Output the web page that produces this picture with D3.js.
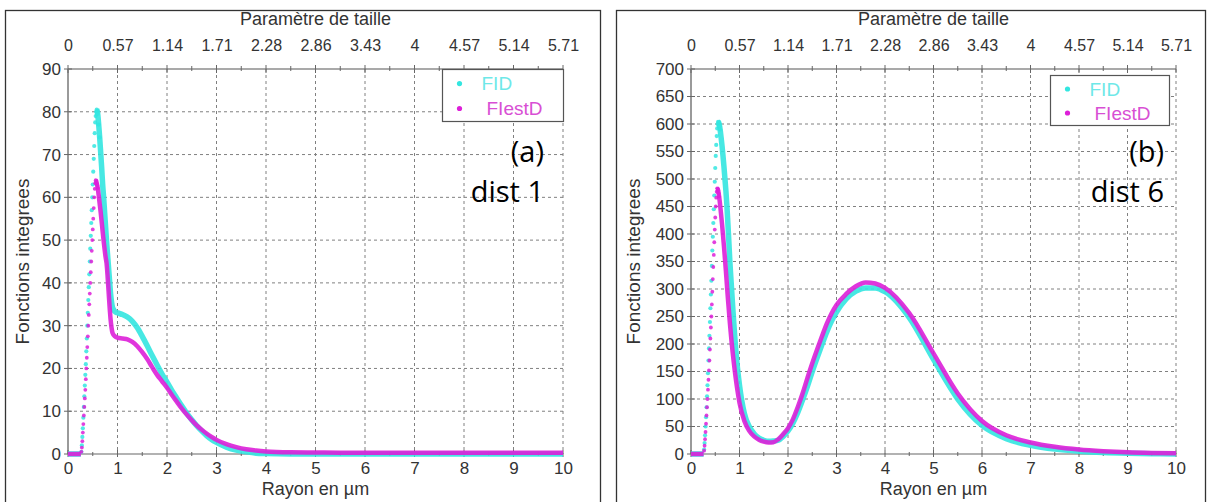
<!DOCTYPE html>
<html><head><meta charset="utf-8">
<script src="https://cdn.jsdelivr.net/npm/d3@7"></script>
<style>body{margin:0;background:#fff}svg{display:block}</style>
</head><body>
<svg id="c" width="1211" height="502"></svg>
<script>
// ---------- data ----------
const radius = [0,0.1,0.2,0.25,
 0.26,0.27,0.28,0.29,0.30,0.31,0.32,0.33,0.34,0.35,0.36,0.37,0.38,0.39,0.40,0.41,0.42,0.43,0.44,0.45,0.46,0.47,0.48,0.49,0.50,0.51,0.52,0.53,0.54,0.55,0.56,0.57,0.58,0.59,0.60,
 0.62,0.64,0.66,0.68,0.70,0.72,0.74,0.76,0.78,0.80,0.82,0.84,0.86,0.88,0.90,
 0.95,1.0,1.1,1.2,1.3,1.4,1.5,1.6,1.7,1.8,1.9,2.0,2.1,2.2,2.3,2.4,2.5,2.6,2.7,2.8,2.9,3.0,
 3.2,3.4,3.6,3.8,4.0,
 4.5,5,5.5,6,6.5,7,7.5,8,8.5,9,9.5,10];

const dist1FID = [0,0,0,0,
 0,0.5,2,4,6,8.5,11,13.5,16,18.5,21,24,27,30,33,36,39,42,45,48,51,54,57,60,63,66,69,72,75,77.5,79,80,80.5,80.2,79.5,
 77,74,70.5,67,63,60,56.5,53,49.5,46.5,43.5,40.5,37.5,35.5,34.2,
 33.3,33,32.6,32,31,29.5,27.5,25.3,23,20.8,18.7,16.8,14.8,13,11.2,9.5,8,6.6,5.4,4.3,3.4,2.7,
 1.6,0.9,0.5,0.2,0.1,
 0,0,0,0,0,0,0,0,0,0,0,0];

const dist1FIestD = [0,0,0,0,
 0,0.5,1.5,3,5,7,9,11,13,15,17.5,20,22.5,25,27.5,30,32.5,35,37.5,40,42.5,45,47.5,50,52.5,55,57.5,60,62,63.3,64,63.8,63.3,62.8,62.2,
 60.5,58.5,56.5,54.3,52,49.8,47.8,46,44.5,41.5,38,34.5,31.5,29.5,28.3,
 27.5,27.2,27,26.8,26.2,25.2,23.8,22.2,20.3,18.5,17,15.5,13.8,12.2,10.6,9.2,7.9,6.7,5.7,4.8,4,3.3,
 2.3,1.6,1.1,0.8,0.6,
 0.4,0.35,0.3,0.3,0.3,0.3,0.3,0.3,0.3,0.3,0.3,0.3];

const dist6FID = [0,0,0,0,
 0,8,20,34,50,67,85,105,125,147,170,192,215,240,265,290,315,342,370,395,420,445,470,495,520,542,562,578,592,600,604,603,600,596,590,
 576,560,542,522,500,478,452,420,387,352,323,295,268,241,216,
 163,125,74,50,37,29,25,23,23.5,25,32,42,56,75,98,123,150,175,199,222,242,258,
 282,296,302,302,295,
 248,172,100,52,28,16,9,5,2.5,1.2,0.5,0.2];

const dist6FIestD = [0,0,0,0,
 0,6,15,27,40,55,70,85,100,117,135,152,170,190,210,230,250,272,295,318,340,362,385,408,430,450,466,477,483,482,479,474,468,461,453,
 436,418,398,377,355,332,308,284,262,240,220,201,184,168,153,
 120,93,60,42,32,26,22.5,21,21.5,27,36,47,63,85,110,138,165,190,214,237,256,271,
 291,305,312,310,302,
 256,183,110,60,34,21,13,8,5,3,2,1.5];

const xTicks = [0,1,2,3,4,5,6,7,8,9,10];
const xMinorTicks = [0.5,1.5,2.5,3.5,4.5,5.5,6.5,7.5,8.5,9.5];
const topTickLabels = ["0","0.57","1.14","1.71","2.28","2.86","3.43","4","4.57","5.14","5.71"];
const yTicks1 = [0,10,20,30,40,50,60,70,80,90];
const yTicks6 = [0,50,100,150,200,250,300,350,400,450,500,550,600,650,700];
const seriesNames = ["FID","FIestD"];
const panelTags = ["(a)","(b)"];
const distNames = ["dist 1","dist 6"];
const topTitle = "Paramètre de taille";
const xTitle = "Rayon en µm";
const yTitle = "Fonctions integrees";

// ---------- layout ----------
const svg = d3.select("#c");
const FONT = "'Liberation Sans', Arial, sans-serif";
const cFID = "#33e6e0", cFI = "#dd1fd8";

const panels = [
 {frame:[5.5,10.5,595,500], l:68, r:563, t:69, b:454, yMax:90, yTicks:yTicks1, fid:dist1FID, fie:dist1FIestD,
  leg:{x:442.5,y:69.5,w:121,h:52}, tagR:544, yTitleX:22, tag:panelTags[0], dist:distNames[0]},
 {frame:[616.5,10.5,589,500], l:691, r:1176, t:69, b:454, yMax:700, yTicks:yTicks6, fid:dist6FID, fie:dist6FIestD,
  leg:{x:1050.5,y:75.5,w:119,h:50}, tagR:1164, yTitleX:633, tag:panelTags[1], dist:distNames[1]}
];

panels.forEach(p => {
  const g = svg.append("g");
  g.append("rect").attr("x",p.frame[0]).attr("y",p.frame[1]).attr("width",p.frame[2]).attr("height",p.frame[3])
    .attr("fill","none").attr("stroke","#333").attr("stroke-width",1.3);

  const x = d3.scaleLinear().domain([0,10]).range([p.l,p.r]);
  const y = d3.scaleLinear().domain([0,p.yMax]).range([p.b,p.t]);

  // grid
  const grid = g.append("g").attr("stroke","#808080").attr("stroke-width",1).attr("stroke-dasharray","3,3");
  xTicks.filter(d=>d>0).forEach(d => grid.append("line").attr("x1",x(d)).attr("x2",x(d)).attr("y1",p.t).attr("y2",p.b));
  p.yTicks.filter(d=>d>0 && d<p.yMax).forEach(d => grid.append("line").attr("x1",p.l).attr("x2",p.r).attr("y1",y(d)).attr("y2",y(d)));

  // axes lines
  g.append("line").attr("x1",p.l).attr("x2",p.r).attr("y1",p.t).attr("y2",p.t).attr("stroke","#555").attr("stroke-width",1.2);
  g.append("line").attr("x1",p.l).attr("x2",p.r).attr("y1",p.b).attr("y2",p.b).attr("stroke","#999").attr("stroke-width",1.5);
  g.append("line").attr("x1",p.l).attr("x2",p.l).attr("y1",p.t).attr("y2",p.b).attr("stroke","#9a9a9a").attr("stroke-width",2);

  // tick marks
  const tk = g.append("g").attr("stroke","#666").attr("stroke-width",1);
  xTicks.forEach(d => {
    tk.append("line").attr("x1",x(d)).attr("x2",x(d)).attr("y1",p.t-4).attr("y2",p.t+4);
    tk.append("line").attr("x1",x(d)).attr("x2",x(d)).attr("y1",p.b-4).attr("y2",p.b+3);
  });
  xMinorTicks.forEach(d => {
    tk.append("line").attr("x1",x(d)).attr("x2",x(d)).attr("y1",p.t-3).attr("y2",p.t+2);
    tk.append("line").attr("x1",x(d)).attr("x2",x(d)).attr("y1",p.b-2).attr("y2",p.b+2);
  });
  p.yTicks.forEach(d => tk.append("line").attr("x1",p.l-4).attr("x2",p.l+4).attr("y1",y(d)).attr("y2",y(d)));

  // tick labels via d3 axes
  const styleAxis = fs => sel => { sel.select(".domain").remove(); sel.selectAll("line").remove();
    sel.selectAll("text").attr("font-family",FONT).attr("font-size",fs).attr("fill","#333"); };
  g.append("g").attr("transform",`translate(0,${p.t})`)
    .call(d3.axisTop(x).tickValues(xTicks).tickFormat((d,i)=>topTickLabels[i]).tickSize(0).tickPadding(18)).call(styleAxis(16));
  g.append("g").attr("transform",`translate(0,${p.b})`)
    .call(d3.axisBottom(x).tickValues(xTicks).tickFormat(d3.format("d")).tickSize(0).tickPadding(8)).call(styleAxis(17));
  g.append("g").attr("transform",`translate(${p.l},0)`)
    .call(d3.axisLeft(y).tickValues(p.yTicks).tickFormat(d3.format("d")).tickSize(0).tickPadding(7)).call(styleAxis(17));

  // titles
  const cx = (p.l+p.r)/2;
  g.append("text").attr("x",cx).attr("y",25).attr("text-anchor","middle").attr("font-family",FONT).attr("font-size",18).attr("fill","#333").text(topTitle);
  g.append("text").attr("x",cx).attr("y",495).attr("text-anchor","middle").attr("font-family",FONT).attr("font-size",18).attr("fill","#333").text(xTitle);
  g.append("text").attr("transform",`translate(${p.yTitleX},${(p.t+p.b)/2}) rotate(-90)`).attr("dy","0.35em")
    .attr("text-anchor","middle").attr("font-family",FONT).attr("font-size",19).attr("fill","#333").text(yTitle);

  // series
  const series = [{vals:p.fid, color:cFID, w:5.5, r:2.1, op:0.9},{vals:p.fie, color:cFI, w:4.5, r:1.9, op:0.9}];
  series.forEach(s => {
    const pts = radius.map((r,i)=>({x:r, y:s.vals[i], i}));
    const firstPeak = d3.maxIndex(pts.filter(d=>d.x<1), d=>d.y);
    const line = d3.line().defined(d => d.x<=0.26 || d.i>=firstPeak)
      .x(d=>x(d.x)).y(d=>y(d.y)).curve(d3.curveMonotoneX);
    g.append("path").datum(pts).attr("d",line).attr("fill","none").attr("stroke",s.color)
      .attr("stroke-width",s.w).attr("stroke-linejoin","round").attr("stroke-opacity",s.op);
    g.append("g").selectAll("circle").data(pts.filter(d=>d.x>0.26 && d.i<=firstPeak+4)).join("circle")
      .attr("cx",d=>x(d.x)).attr("cy",d=>y(d.y)).attr("r",s.r).attr("fill",s.color).attr("fill-opacity",0.85);
  });

  // legend
  const L = p.leg;
  g.append("rect").attr("x",L.x).attr("y",L.y).attr("width",L.w).attr("height",L.h).attr("fill","#fff").attr("stroke","#555").attr("stroke-width",1.2);
  [cFID,cFI].forEach((c,i) => {
    const yy = L.y + L.h*(i===0?0.27:0.75);
    g.append("circle").attr("cx",L.x+17).attr("cy",yy).attr("r",2.6).attr("fill",c);
    g.append("text").attr("x",L.x+(i===0?39:44)).attr("y",yy).attr("dy","0.36em").attr("font-family",FONT)
      .attr("font-size",19).attr("fill",i===0?"#6ee8e8":"#d84fd4").text(seriesNames[i]);
  });

  // panel tag
  const TF = "'Open Sans', 'Noto Sans', sans-serif";
  g.append("text").attr("x",p.tagR).attr("y",162).attr("text-anchor","end").attr("font-family",TF).attr("font-size",29).attr("fill","#000").text(p.tag);
  g.append("text").attr("x",p.tagR).attr("y",202).attr("text-anchor","end").attr("font-family",TF).attr("font-size",29).attr("fill","#000").text(p.dist);
});
</script>
</body></html>
